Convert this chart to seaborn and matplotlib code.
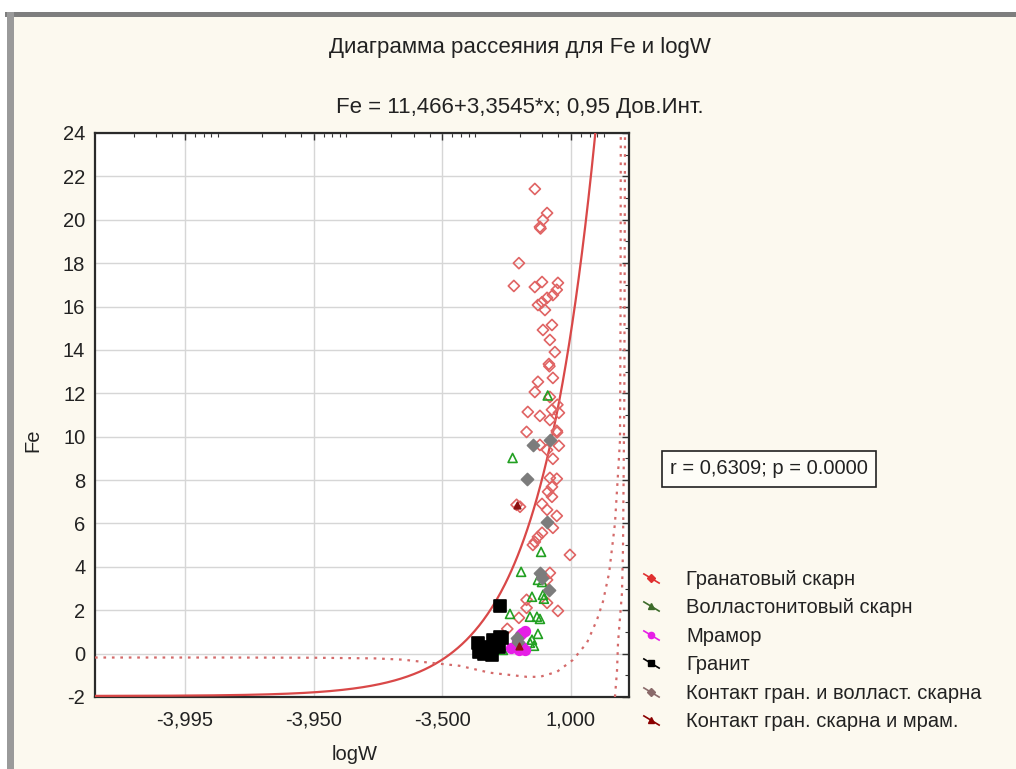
import numpy as np
import pandas as pd
import matplotlib
matplotlib.use("Agg")
import matplotlib.pyplot as plt
import seaborn as sns
from matplotlib.lines import Line2D
from matplotlib.path import Path
from matplotlib.legend_handler import HandlerTuple
from matplotlib.patches import Rectangle
from matplotlib.ticker import FixedLocator, FuncFormatter, MultipleLocator, NullFormatter
from matplotlib import font_manager as fm

# ---------------- data ----------------
TITLE = "Диаграмма рассеяния для Fe и logW"
SUBTITLE = "Fe = 11,466+3,3545*x; 0,95 Дов.Инт."
STAT_TEXT = "r = 0,6309; p = 0.0000"
X_LABEL = "logW"
Y_LABEL = "Fe"
INTERCEPT = 11.466
SLOPE = 3.3545

garnet_x = [-1.38, -0.74, -0.97, -1.13, -1.10, -2.03, -2.20, -1.38, -1.02, -0.04,
            -0.12, -0.38, -0.74, -1.02, -1.23, -0.86, -0.44, -0.97, -0.57, -0.25,
            -0.63, -0.60, -1.23, -0.38, -1.38, -0.57, -0.08, -1.69, -1.13, -0.44,
            0.03, -0.57, -0.12, -0.10, -1.74, -1.13, 0.03, -0.74, -0.38, -0.57,
            -0.12, -0.44, -0.68, -0.44, -2.11, -1.99, -1.02, -0.74, -0.12, -0.38,
            -1.02, -1.23, -1.38, -1.47, 0.91, -0.57, -0.74, -1.74, -0.74, -1.74,
            -0.04, -2.03, -2.40]
garnet_fe = [21.42, 20.31, 19.99, 19.67, 19.60, 18.00, 16.95, 16.90, 17.13, 17.09,
             16.77, 16.53, 16.40, 16.20, 16.07, 15.84, 15.15, 14.92, 14.46, 13.90,
             13.35, 13.25, 12.53, 12.71, 12.06, 11.83, 11.47, 11.14, 10.96, 11.24,
             11.10, 10.77, 10.27, 10.20, 10.22, 9.62, 9.58, 9.39, 8.98, 8.10,
             8.06, 7.69, 7.46, 7.23, 6.86, 6.77, 6.90, 6.63, 6.35, 5.80,
             5.57, 5.38, 5.15, 5.01, 4.55, 3.72, 3.40, 2.48, 2.34, 2.11,
             1.97, 1.65, 1.14]

woll_x = [-0.70, -2.24, -1.07, -1.95, -1.23, -1.02, -0.97, -1.51, -0.92, -2.32,
          -1.60, -1.28, -1.13, -1.23, -1.51, -1.60, -1.42, -2.52]
woll_fe = [11.90, 9.02, 4.69, 3.77, 3.40, 3.30, 2.71, 2.62, 2.53, 1.83,
           1.70, 1.70, 1.60, 0.91, 0.64, 0.50, 0.36, 0.17]

marble_x = [-1.81, -1.90, -1.99, -2.11, -2.17, -2.28, -1.90, -2.03, -1.81]
marble_fe = [1.05, 0.96, 0.87, 0.64, 0.31, 0.27, 0.31, 0.17, 0.17]

granite_x = [-2.60, -3.06, -3.04, -2.89, -2.77, -2.60, -2.62, -2.79, -2.95, -2.55, -2.70, -3.00]
granite_fe = [2.20, 0.50, 0.08, 0.17, 0.64, 0.78, 0.31, -0.05, 0.00, 0.73, 0.40, 0.30]

contact_gw_x = [-0.57, -1.47, -1.74, -0.74, -1.13, -1.02, -0.63, -2.11, -2.05]
contact_gw_fe = [9.85, 9.62, 8.06, 6.07, 3.72, 3.50, 2.94, 0.73, 0.55]

contact_gm_x = [-2.03, -2.11]
contact_gm_fe = [0.36, 6.86]

# confidence-band curves
band1_x = [-3.999, -3.99, -3.95, -3.85, -3.75, -3.60, -3.32, -2.83, -1.73, -1.13,
           -0.11, 1.18, 2.66, 3.97, 4.87, 5.90, 6.99, 7.61, 8.03, 8.15, 8.20]
band1_fe = [-0.18, -0.18, -0.19, -0.22, -0.28, -0.42, -0.56, -0.88, -1.07, -1.07,
            -0.84, -0.29, 0.50, 1.56, 2.40, 3.72, 6.00, 8.30, 9.85, 16.0, 24.5]
band2_x = [6.99, 7.40, 7.61, 8.46, 8.69, 9.00, 9.16]
band2_fe = [-2.0, -0.8, 0.5, 2.8, 4.8, 12.0, 24.5]

x_major_ticks = [-3.995, -3.95, -3.5, 1.0]
x_limits = [-3.999, 10.13]
y_limits = [-2, 24]

groups = ["Гранатовый скарн", "Волластонитовый скарн", "Мрамор", "Гранит",
          "Контакт гран. и волласт. скарна", "Контакт гран. скарна и мрам."]
group_x = [garnet_x, woll_x, marble_x, granite_x, contact_gw_x, contact_gm_x]
group_y = [garnet_fe, woll_fe, marble_fe, granite_fe, contact_gw_fe, contact_gm_fe]
colors = ["#e06464", "#22a022", "#e61ee6", "#000000", "#7c7c7c", "#8b1010"]
markers = ["D", "^", "o", "s", "D", "^"]
sizes = [32, 42, 48, 66, 38, 22]
hollow = [True, True, False, False, False, False]
legend_colors = ["#e03030", "#3d6b2a", "#e61ee6", "#000000", "#8a6a6a", "#8b0000"]

# ---------------- style ----------------
sns.set_theme(style="white")
names = {f.name for f in fm.fontManager.ttflist}
NARROW = "Liberation Sans Narrow" if "Liberation Sans Narrow" in names else "Liberation Sans"
plt.rcParams['font.family'] = ['Liberation Sans', 'DejaVu Sans']
plt.rcParams['axes.unicode_minus'] = False

BG = "#fcf9ef"
fig = plt.figure(figsize=(10.16, 7.69), dpi=100, facecolor=BG)
W, H = 1016, 769

# window frame decoration
fig.patches.append(Rectangle((0, 1 - 12 / H), 1, 12 / H, transform=fig.transFigure,
                             facecolor="white", edgecolor="none", zorder=0))
fig.patches.append(Rectangle((0, 0), 7 / W, 1, transform=fig.transFigure,
                             facecolor="white", edgecolor="none", zorder=0))
fig.patches.append(Rectangle((5 / W, 1 - 17 / H), 1, 5 / H, transform=fig.transFigure,
                             facecolor="#7e7e7e", edgecolor="none", zorder=1))
fig.patches.append(Rectangle((7 / W, 0), 7 / W, 1 - 12 / H, transform=fig.transFigure,
                             facecolor="#9a9a9a", edgecolor="none", zorder=1))

ax = fig.add_axes([95 / W, 1 - 697 / H, 534 / W, 564 / H])
ax.set_facecolor("white")

OFFSET = 4.0


def fwd(x):
    return np.log10(np.clip(np.asarray(x, dtype=float) + OFFSET, 1e-12, None))


def inv(y):
    return 10.0 ** np.asarray(y, dtype=float) - OFFSET


ax.set_xscale("function", functions=(fwd, inv))

# regression line
line_x = inv(np.linspace(fwd(x_limits[0]), fwd(x_limits[1]), 500))
line_y = INTERCEPT + SLOPE * line_x
sns.lineplot(x=line_x, y=line_y, ax=ax, color="#d94848", lw=1.6, sort=False,
             estimator=None, zorder=3)

# confidence bands
for bx, by in [(band1_x, band1_fe), (band2_x, band2_fe)]:
    sns.lineplot(x=bx, y=by, ax=ax, color="#d46a6a", lw=1.6, sort=False,
                 estimator=None, linestyle=(0, (1.2, 2.6)), zorder=3)

# scatter groups
for gx, gy, c, m, s, h in zip(group_x, group_y, colors, markers, sizes, hollow):
    sns.scatterplot(x=gx, y=gy, ax=ax, marker=m, s=s, color=c, edgecolor=c,
                    linewidth=1.2, zorder=4)
    coll = ax.collections[-1]
    if h:
        coll.set_facecolor("none")
        coll.set_edgecolor(c)

ax.set_xlim(*x_limits)
ax.set_ylim(*y_limits)

# ticks
ax.xaxis.set_major_locator(FixedLocator(x_major_ticks))
minor = []
for d in [0.0001, 0.001, 0.01, 0.1, 1, 10]:
    for k in range(2, 10):
        v = k * d - OFFSET
        if x_limits[0] < v < x_limits[1]:
            minor.append(v)
ax.xaxis.set_minor_locator(FixedLocator(minor))
ax.xaxis.set_minor_formatter(NullFormatter())
ax.xaxis.set_major_formatter(FuncFormatter(lambda v, p: f"{v:.3f}".replace(".", ",")))
ax.yaxis.set_major_locator(MultipleLocator(2))
ax.yaxis.set_minor_locator(MultipleLocator(1))

ax.tick_params(which="both", direction="in", top=True, right=True, colors="#333333",
               labelcolor="#222222", labelsize=14.5)
ax.tick_params(which="major", length=5, width=1)
ax.tick_params(which="minor", length=3, width=0.8)
ax.tick_params(axis="x", pad=10)
ax.tick_params(axis="y", pad=7)

ax.grid(True, which="major", color="#d6d6d6", lw=1)
ax.set_axisbelow(True)
for sp in ax.spines.values():
    sp.set_color("#2a2a2a")
    sp.set_linewidth(1.6)

ax.set_xlabel(X_LABEL, fontsize=14.5, color="#222222")
ax.set_ylabel(Y_LABEL, fontsize=14.5, color="#222222")
ax.xaxis.set_label_coords((355 - 95) / 534, -(755 - 697) / 564)
ax.xaxis.label.set_va("center")
ax.yaxis.set_label_coords((33 - 95) / 534, (697 - 440) / 564)
ax.yaxis.label.set_va("center")

# titles
fig.text(520 / W, 1 - 48 / H, TITLE, ha="center", va="center", fontsize=16,
         family=[NARROW, "DejaVu Sans"], color="#222222")
fig.text(520 / W, 1 - 107 / H, SUBTITLE, ha="center", va="center", fontsize=16,
         family=[NARROW, "DejaVu Sans"], color="#222222")

# statistics box
fig.text(769 / W, 1 - 469 / H, STAT_TEXT, ha="center", va="center", fontsize=14.5,
         color="#222222",
         bbox=dict(boxstyle="square,pad=0.4", facecolor="#fefdf8", edgecolor="#222222", lw=1.2))

# legend
slash = Path([(-1.0, 0.6), (1.0, -0.6)], [Path.MOVETO, Path.LINETO])
handles = []
for c, lc, m in zip(colors, legend_colors, markers):
    h1 = Line2D([0], [0], ls="none", marker=slash, ms=12, mec=lc, mew=1.2, mfc="none")
    h2 = Line2D([0], [0], ls="none", marker=m, ms=4.5, color=lc, mec=lc)
    handles.append((h1, h2))
fig.legend(handles, groups, loc="upper left", bbox_to_anchor=(634 / W, 1 - 570 / H),
           frameon=False, fontsize=14.5, handlelength=1.7, handletextpad=0.9,
           labelspacing=0.47, borderaxespad=0, borderpad=0,
           handler_map={tuple: HandlerTuple(ndivide=1)}, labelcolor="#222222")

fig.savefig("out.png", dpi=100, facecolor=BG)
